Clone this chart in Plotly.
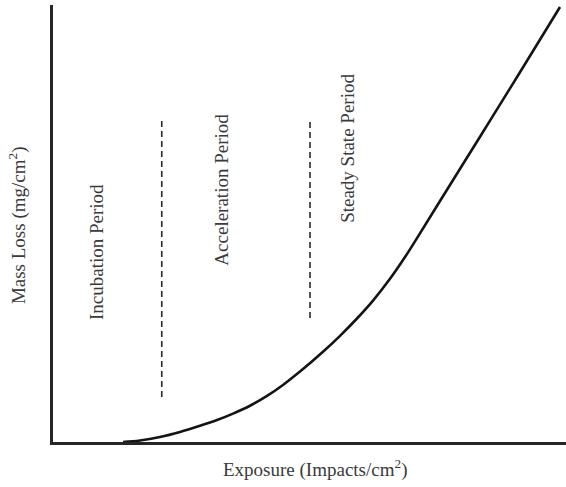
import plotly.graph_objects as go

# Curve data (arbitrary exposure units vs mass loss units)
exposure = [13.65, 16.96, 20.86, 24.76, 28.65, 31.97, 35.09, 38.40, 41.72, 44.83, 48.15,
            52.63, 55.95, 59.26, 62.38, 65.69, 68.62, 70.96, 75.44, 83.24, 91.03, 98.83]
mass_loss = [0.0, 0.34, 1.14, 2.29, 3.70, 5.02, 6.50, 8.30, 10.55, 13.06, 16.11,
             20.64, 24.30, 28.26, 32.36, 37.35, 42.33, 46.66, 55.15, 69.86, 84.60, 99.54]

# Period boundaries (dashed lines)
boundary_x = [21.2, 50.1]
boundary_y0 = [10.3, 28.4]
boundary_y1 = [73.7, 73.7]

# Period labels
period_labels = ["Incubation Period", "Acceleration Period", "Steady State Period"]
label_x = [8.6, 32.9, 57.5]
label_y = [43.5, 57.7, 67.3]

FONT = "Liberation Serif, Times New Roman, serif"
TXT = "#3a3a3a"

fig = go.Figure()
fig.add_trace(go.Scatter(x=exposure, y=mass_loss, mode="lines",
                         line=dict(color="#141414", width=2.6, shape="spline", smoothing=1.0),
                         showlegend=False, hoverinfo="skip"))
for bx, y0, y1 in zip(boundary_x, boundary_y0, boundary_y1):
    fig.add_trace(go.Scatter(x=[bx, bx], y=[y0, y1], mode="lines",
                             line=dict(color="#2a2a2a", width=1.6, dash="6px,4px"),
                             showlegend=False, hoverinfo="skip"))

for t, lx, ly in zip(period_labels, label_x, label_y):
    fig.add_annotation(x=lx, y=ly, xref="x", yref="y", text=t, textangle=-90,
                       showarrow=False, xanchor="center", yanchor="middle",
                       font=dict(family=FONT, size=19, color=TXT))

fig.add_annotation(x=-0.068, y=0.4966, xref="paper", yref="paper",
                   text="Mass Loss (mg/cm<sup>2</sup>)", textangle=-90, showarrow=False,
                   xanchor="center", yanchor="middle",
                   font=dict(family=FONT, size=19, color=TXT))
fig.add_annotation(x=0.511, y=-0.0595, xref="paper", yref="paper",
                   text="Exposure (Impacts/cm<sup>2</sup>)", showarrow=False,
                   xanchor="center", yanchor="middle",
                   font=dict(family=FONT, size=19, color=TXT))

fig.update_layout(
    width=566, height=487,
    margin=dict(l=53, r=0, t=5, b=45),
    paper_bgcolor="white", plot_bgcolor="white",
    hovermode=False,
    xaxis=dict(range=[0, 100], showgrid=False, zeroline=False, showticklabels=False,
               ticks="", showline=True, linecolor="#262626", linewidth=3, fixedrange=True),
    yaxis=dict(range=[0, 100], showgrid=False, zeroline=False, showticklabels=False,
               ticks="", showline=True, linecolor="#262626", linewidth=3, fixedrange=True),
)
fig.write_html("out.html", config={"displayModeBar": False},
               post_script="document.body.style.margin='0';document.body.style.padding='0';document.body.style.overflow='hidden';")
